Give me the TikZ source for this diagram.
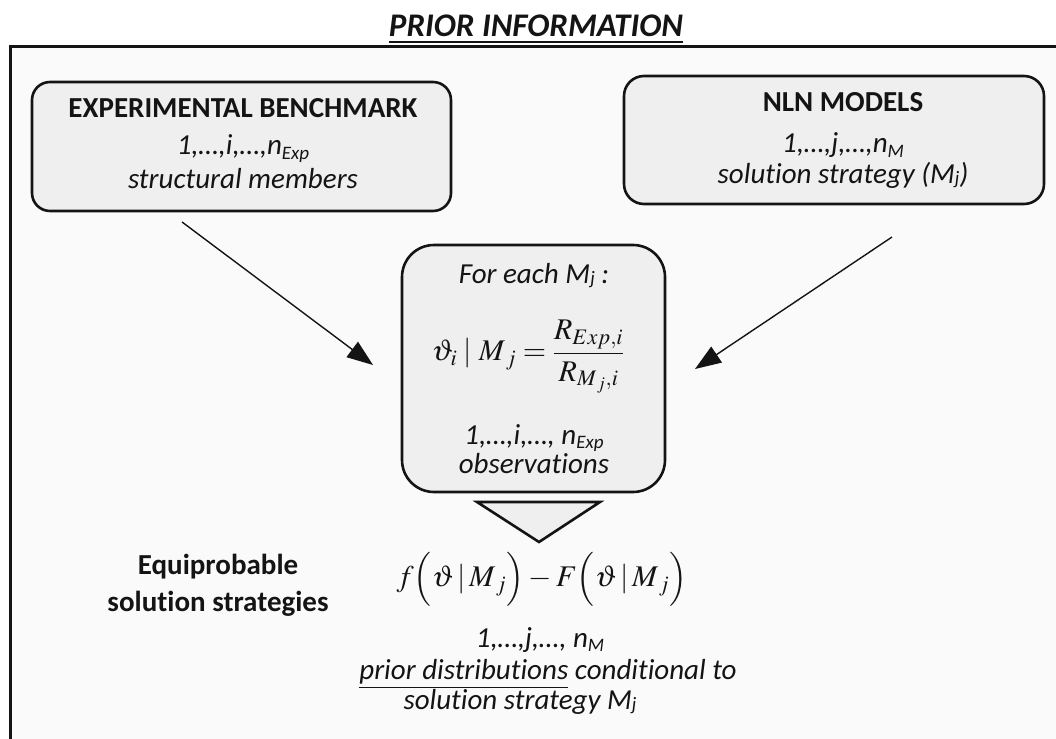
\documentclass[tikz,border=0pt]{standalone}
\usepackage{mathptmx}
\usepackage[no-math]{fontspec}
\setmainfont{Carlito}[Ligatures={NoCommon}]
\usetikzlibrary{arrows.meta}
\definecolor{boxfill}{RGB}{239,239,239}
\definecolor{panel}{RGB}{250,250,250}
\definecolor{ink}{RGB}{20,20,20}
\newcommand{\lsub}[1]{\raisebox{-0.14em}{\fontsize{19}{19}\selectfont #1}}
\newcommand{\jsub}{\raisebox{-0.06em}{\fontsize{19}{19}\selectfont j}}
\tikzset{
  box/.style={draw=ink, line width=2.6pt, fill=boxfill, inner sep=0pt},
  txt/.style={anchor=base, inner sep=0pt, text=ink, font=\fontsize{29}{30}\selectfont},
  btxt/.style={txt, font=\fontsize{29}{30}\selectfont\bfseries},
  itxt/.style={txt, font=\fontsize{29}{30}\selectfont\itshape},
  mtxt/.style={inner sep=0pt, text=ink, font=\fontsize{30}{32}\selectfont},
  conn/.style={draw=ink, line width=1.4pt, -{Triangle[length=26pt,width=19pt]}},
}
\begin{document}
\begin{tikzpicture}[x=1pt,y=-1pt]
\useasboundingbox (0,0) rectangle (1056,738);
\clip (0,0) rectangle (1056,738);
\fill[white] (0,0) rectangle (1056,738);
% title
\node[txt, font=\fontsize{33}{34}\selectfont\bfseries\itshape] (title) at (536,37) {\underline{PRIOR INFORMATION}};
% frame
\draw[draw=ink, line width=3pt, fill=panel] (10,47) rectangle (1090,780);
% boxes
\node[box, rounded corners=18pt, minimum width=419pt, minimum height=129pt] (bench) at (241.5,146.5) {};
\node[box, rounded corners=20pt, minimum width=420pt, minimum height=128pt] (models) at (834,140) {};
\node[box, rounded corners=32pt, minimum width=263pt, minimum height=247pt] (mid) at (533.5,368.5) {};
% box 1 text
\node[btxt] (b1a) at (243,118) {EXPERIMENTAL BENCHMARK};
\node[itxt] (b1b) at (243,155) {1,…,i,…,n\lsub{Exp}};
\node[itxt] (b1c) at (243,188) {structural members};
% box 2 text
\node[btxt] (b2a) at (843,112) {NLN MODELS};
\node[itxt] (b2b) at (843,153) {1,…,j,…,n\lsub{M}};
\node[itxt] (b2c) at (843,183) {solution strategy (M\jsub)};
% middle text
\node[itxt] (m1) at (534,283) {For each M\jsub\ :};
\node[mtxt] (m2) at (528,357) {$\displaystyle\vartheta_{i}\;|\;M_{\,j} = \frac{R_{Exp,i}}{R_{M_{\,j},i}}$};
\node[itxt] (m3) at (534,444) {1,…,i,…, n\lsub{Exp}};
\node[itxt] (m4) at (534,473) {observations};
% arrows
\coordinate (a1s) at (182,222);
\coordinate (a1e) at (373,365);
\coordinate (a2s) at (892,237);
\coordinate (a2e) at (695,369);
\draw[conn] (a1s) -- (a1e);
\draw[conn] (a2s) -- (a2e);
% triangle
\coordinate (t1) at (477,502);
\coordinate (t2) at (600,502);
\coordinate (t3) at (539,542);
\draw[draw=ink, line width=2.6pt, fill=boxfill, line join=miter] (t1) -- (t2) -- (t3) -- cycle;
% lower part
\node[btxt, align=center, anchor=center, font=\fontsize{29}{37}\selectfont\bfseries] (eq) at (218,585) {Equiprobable\\solution strategies};
\node[mtxt] (f) at (542,579) {$f\Bigl(\vartheta\,|\,M_{\,j}\Bigr)-F\Bigl(\vartheta\,|\,M_{\,j}\Bigr)$};
\node[itxt] (p1) at (540,647) {1,…,j,…, n\lsub{M}};
\node[itxt] (p2) at (548,679) {\underline{prior distributions} conditional to};
\node[itxt] (p3) at (520,709) {solution strategy M\jsub};
\end{tikzpicture}
\end{document}
